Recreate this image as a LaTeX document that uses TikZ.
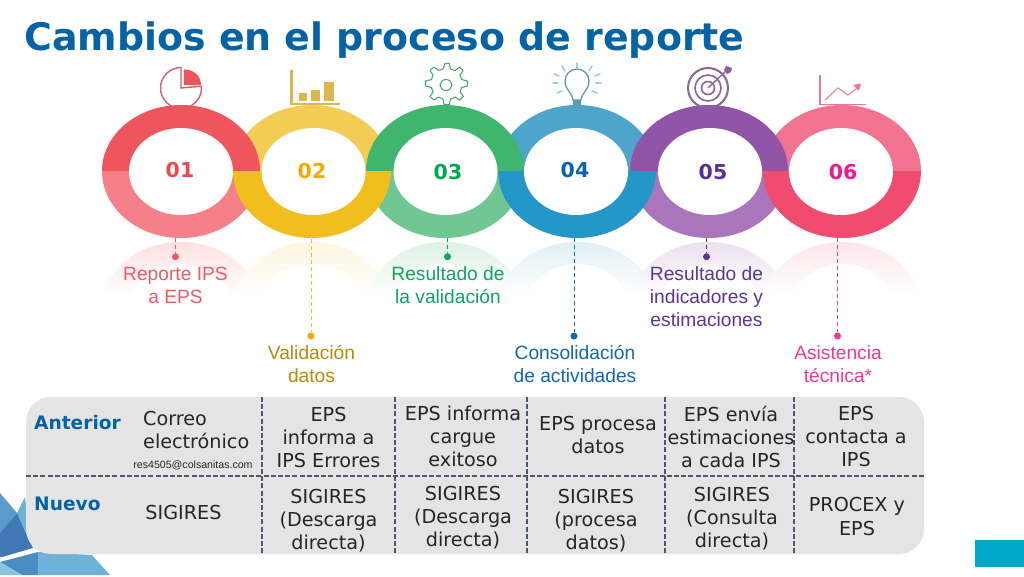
\documentclass[tikz,border=0pt]{standalone}
\usepackage{fontspec}
\setmainfont{DejaVu Sans}
\newfontfamily\lblfont{Liberation Sans}
\definecolor{titleblue}{HTML}{0563A5}
\definecolor{rA}{HTML}{F0545C}\definecolor{rAl}{HTML}{F5808A}\definecolor{tA}{HTML}{F0474F}\definecolor{lA}{HTML}{EE5A64}
\definecolor{rB}{HTML}{F3CC55}\definecolor{rBl}{HTML}{F1BE1E}\definecolor{tB}{HTML}{F5A800}\definecolor{lB}{HTML}{B8890F}\definecolor{lBb}{HTML}{F5BC20}
\definecolor{rC}{HTML}{3FB56E}\definecolor{rCl}{HTML}{70C792}\definecolor{tC}{HTML}{00A651}\definecolor{lC}{HTML}{10A45E}
\definecolor{rD}{HTML}{4EA5CB}\definecolor{rDl}{HTML}{2496C8}\definecolor{tD}{HTML}{0563B0}\definecolor{lD}{HTML}{1566B0}
\definecolor{rE}{HTML}{9155A8}\definecolor{rEl}{HTML}{AA75BA}\definecolor{tE}{HTML}{5B2D96}\definecolor{lE}{HTML}{5F3497}
\definecolor{rF}{HTML}{F27390}\definecolor{rFl}{HTML}{EF4C70}\definecolor{tF}{HTML}{F0188C}\definecolor{lF}{HTML}{EE3A94}
\definecolor{cellgrey}{HTML}{E4E4E4}
\definecolor{dashc}{HTML}{4A5570}
\definecolor{celltext}{HTML}{262626}
\definecolor{logoA}{HTML}{5A9BCB}\definecolor{logoB}{HTML}{3F78B4}\definecolor{logoC}{HTML}{6DB3D8}\definecolor{logoD}{HTML}{4A8CC4}\definecolor{logoE}{HTML}{8CC4DE}
\definecolor{tealbox}{HTML}{00A9CC}
\newcommand{\ringtop}[3]{\fill[#3] ({#1-79},#2) arc[start angle=180,end angle=360,x radius=79,y radius=66] -- ({#1+50},#2) arc[start angle=360,end angle=180,x radius=50,y radius=42] -- cycle;}
\newcommand{\ringbot}[3]{\fill[#3] ({#1-79},#2) arc[start angle=180,end angle=0,x radius=79,y radius=67] -- ({#1+50},#2) arc[start angle=0,end angle=180,x radius=50,y radius=42] -- cycle;}
\newcommand{\reflect}[2]{\begin{scope}[even odd rule]
  \clip (#1,308) ellipse[x radius=79,y radius=66] (#1,308) ellipse[x radius=52,y radius=44];
  \shade[top color=#2!18!white,bottom color=white] ({#1-80},241) rectangle ({#1+80},296);
\end{scope}}
\tikzset{
  numlabel/.style={font=\bfseries\fontsize{20.5}{24}\selectfont},
  steplabel/.style={font=\lblfont\fontsize{19.2}{23}\selectfont,align=center,inner sep=0pt,anchor=center},
  dotnode/.style={circle,inner sep=0pt,minimum size=7pt},
  leader/.style={line width=1pt,dash pattern=on 4pt off 3pt},
  cell/.style={font=\fontsize{19.2}{23}\selectfont,text=celltext,align=center,inner sep=0pt,anchor=center},
  rowhead/.style={font=\bfseries\fontsize{18.6}{21}\selectfont,text=titleblue,inner sep=0pt,anchor=west},
  griddash/.style={dashc,line width=1.4pt,dash pattern=on 5pt off 2.2pt}
}
\begin{document}
\begin{tikzpicture}[x=1pt,y=-1pt]
\useasboundingbox (0,0) rectangle (1024,576);
\fill[white] (0,0) rectangle (1024,576);
\node[font=\bfseries\fontsize{37.9}{44}\selectfont,text=titleblue,inner sep=0pt,anchor=base west] (title) at (24,50.5) {Cambios en el proceso de reporte};
% reflections
\reflect{181}{rA}\reflect{312}{rB}\reflect{445}{rC}\reflect{577}{rD}\reflect{709}{rE}\reflect{842}{rF}
% rings (back halves first)
\ringtop{312}{171}{rB}\ringtop{577}{171}{rD}\ringtop{842}{171}{rF}
\ringbot{181}{171}{rAl}\ringbot{445}{171}{rCl}\ringbot{709}{171}{rEl}
\ringtop{181}{171}{rA}\ringtop{445}{171}{rC}\ringtop{709}{171}{rE}
\ringbot{312}{171}{rBl}\ringbot{577}{171}{rDl}\ringbot{842}{171}{rFl}
% white holes
\foreach \cx in {181,313.5,445.5,576,710,841}{\fill[white] (\cx,171.5) ellipse[x radius=52,y radius=43.5];}
% numbers
\node[numlabel,text=tA] (n1) at (180,170) {01};
\node[numlabel,text=tB] (n2) at (312,171.5) {02};
\node[numlabel,text=tC] (n3) at (448,172) {03};
\node[numlabel,text=tD] (n4) at (575,170) {04};
\node[numlabel,text=tE] (n5) at (713,172) {05};
\node[numlabel,text=tF] (n6) at (843,172.5) {06};
% leaders
\coordinate (b1) at (175.5,238);\coordinate (b2) at (311,239);\coordinate (b3) at (447.5,238);
\coordinate (b4) at (574,238);\coordinate (b5) at (706.5,238);\coordinate (b6) at (837.5,238);
\node[dotnode,fill=lA] (d1) at (175.5,256.7) {};
\node[dotnode,fill=tB] (d2) at (311,336) {};
\node[dotnode,fill=lC] (d3) at (447.5,256.7) {};
\node[dotnode,fill=lD] (d4) at (574,336) {};
\node[dotnode,fill=lE] (d5) at (706.5,256.7) {};
\node[dotnode,fill=lF] (d6) at (837.5,336) {};
\draw[leader,lA] (b1) -- (d1);\draw[leader,lBb] (b2) -- (d2);\draw[leader,lC] (b3) -- (d3);
\draw[leader,lD] (b4) -- (d4);\draw[leader,lE] (b5) -- (d5);\draw[leader,lF] (b6) -- (d6);
% labels
\node[steplabel,text=lA] (l1) at (175.5,285) {Reporte IPS\\a EPS};
\node[steplabel,text=lB] (l2) at (311.5,364) {Validación\\datos};
\node[steplabel,text=lC] (l3) at (448,285) {Resultado de\\la validación};
\node[steplabel,text=lD] (l4) at (575,364) {Consolidación\\de actividades};
\node[steplabel,text=lE] (l5) at (706.5,296.5) {Resultado de\\indicadores y\\estimaciones};
\node[steplabel,text=lF] (l6) at (838,364) {Asistencia\\técnica*};
% pie icon
\draw[rA!75!gray,line width=1.4pt] (181,67.5) arc[start angle=270,end angle=-5,radius=20.5] -- (181,88) -- cycle;
\fill[rA] (184,69.5) -- (184,85) -- (201,85) .. controls (201,76) and (194,69.5) .. (184,69.5) -- cycle;
% bars icon
\fill[rB!90!black] (289.5,70) rectangle (293,105);
\fill[rB!90!black] (289.5,102.5) rectangle (340,105);
\fill[rB!90!black] (299,93) rectangle (307,101);
\fill[rB!90!black] (311,90) rectangle (320,101);
\fill[rB!90!black] (324,82) rectangle (334,101);
% gear icon
\draw[rC!75!gray,line width=1.1pt,line join=round] (445,63.5)--(449.5,63.5)--(450.5,69)--(455,70.5)--(459.5,67)--(463,70.5)--(460,75)--(461.5,79.5)--(467.5,81)--(467.5,86)--(461.5,87.5)--(460,92)--(463.5,96.5)--(459.5,100)--(455,97)--(450.5,99)--(449.5,104.5)--(444,104.5)--(443,99)--(438.5,97)--(434,100)--(430,96.5)--(433,92)--(431.5,87.5)--(425.5,86)--(425.5,81)--(431.5,79.5)--(433,75)--(430,70.5)--(434,67)--(438.5,70.5)--(443,69)--cycle;
\draw[rC!75!gray,line width=1.1pt] (446,85) ellipse[x radius=6,y radius=5.5];
% bulb icon
\draw[rD!70!gray,line width=1.3pt] (573,100) .. controls (572,92) and (565,90) .. (565,81) arc[start angle=180,end angle=360,radius=12] .. controls (589,90) and (582,92) .. (581,100) -- cycle;
\fill[rD!70!gray] (573,100) rectangle (581,105);
\draw[rD!55!white,line width=1.6pt,line cap=round]
  (577,63)--(577,68) (562,66)--(565,71) (592,66)--(589,71) (554,74)--(559,76) (600,74)--(595,76) (553,83)--(558,83) (601,83)--(596,83) (557,93)--(562,91) (597,93)--(592,91);
% target icon
\draw[rE!75!gray,line width=2pt] (708,88) circle[radius=20];
\draw[rE!75!gray,line width=1.6pt] (708,88) circle[radius=13];
\draw[rE!75!gray,line width=1.6pt] (708,88) circle[radius=6.5];
\draw[rE!75!gray,line width=1.3pt] (708,88) -- (727,70);
\fill[rE!75!gray] (724,70) -- (726,66) -- (732,68) -- (731,72) -- (727,74) -- cycle;
% growth icon
\fill[rF] (819,75) rectangle (821,105);
\fill[rF] (819,103.5) rectangle (866,105);
\draw[rA!55!gray!70!white,line width=1.2pt] (825,100) -- (838,88) -- (848,95) -- (860,86);
\fill[rF] (853,85) -- (861,83.5) -- (859,91) -- cycle;
% logo
\fill[logoA] (0,493) -- (17,513) -- (0,533) -- cycle;
\fill[logoC] (17,513) -- (25,497) -- (30,540) -- cycle;
\fill[logoB] (17,513) -- (33,548) -- (2,557) -- (0,557) -- (0,533) -- cycle;
\fill[logoD] (0,562) -- (38,552) -- (38,575) -- (22,575) -- cycle;
\fill[logoE] (0,562) -- (22,575) -- (0,575) -- cycle;
\fill[logoC] (38,552) -- (92,555) -- (110,575) -- (38,575) -- cycle;
% teal box
\fill[tealbox] (975,540) rectangle (1024,567);
% table
\fill[cellgrey,rounded corners=25pt] (26,397) rectangle (924,554);
\coordinate (hl) at (26,476);\coordinate (hr) at (924,476);
\draw[griddash] (hl) -- (hr);
\foreach \vx in {262,395,527,665,794}{\draw[griddash] (\vx,397) -- (\vx,554);}
\node[rowhead] (ant) at (34,422.5) {Anterior};
\node[rowhead] (nue) at (34,503.5) {Nuevo};
\node[cell,align=left,anchor=west] (c1a) at (143,430) {Correo\\electrónico};
\node[font=\lblfont\fontsize{10.6}{13}\selectfont,text=celltext,inner sep=0pt] (c1m) at (193,465) {res4505@colsanitas.com};
\node[cell] (c1n) at (183.5,512.5) {SIGIRES};
\node[cell] (c2a) at (328.5,437.5) {EPS\\informa a\\IPS Errores};
\node[cell] (c2n) at (328.5,520.5) {SIGIRES\\(Descarga\\directa)};
\node[cell] (c3a) at (463,436) {EPS informa\\cargue\\exitoso};
\node[cell] (c3n) at (463,517.5) {SIGIRES\\(Descarga\\directa)};
\node[cell] (c4a) at (598,435) {EPS procesa\\datos};
\node[cell] (c4n) at (596,520.5) {SIGIRES\\(procesa\\datos)};
\node[cell] (c5a) at (731,437) {EPS envía\\estimaciones\\a cada IPS};
\node[cell] (c5n) at (732,518.5) {SIGIRES\\(Consulta\\directa)};
\node[cell] (c6a) at (856,437) {EPS\\contacta a\\IPS};
\node[cell] (c6n) at (857,516.5) {PROCEX y\\EPS};
\end{tikzpicture}
\end{document}
